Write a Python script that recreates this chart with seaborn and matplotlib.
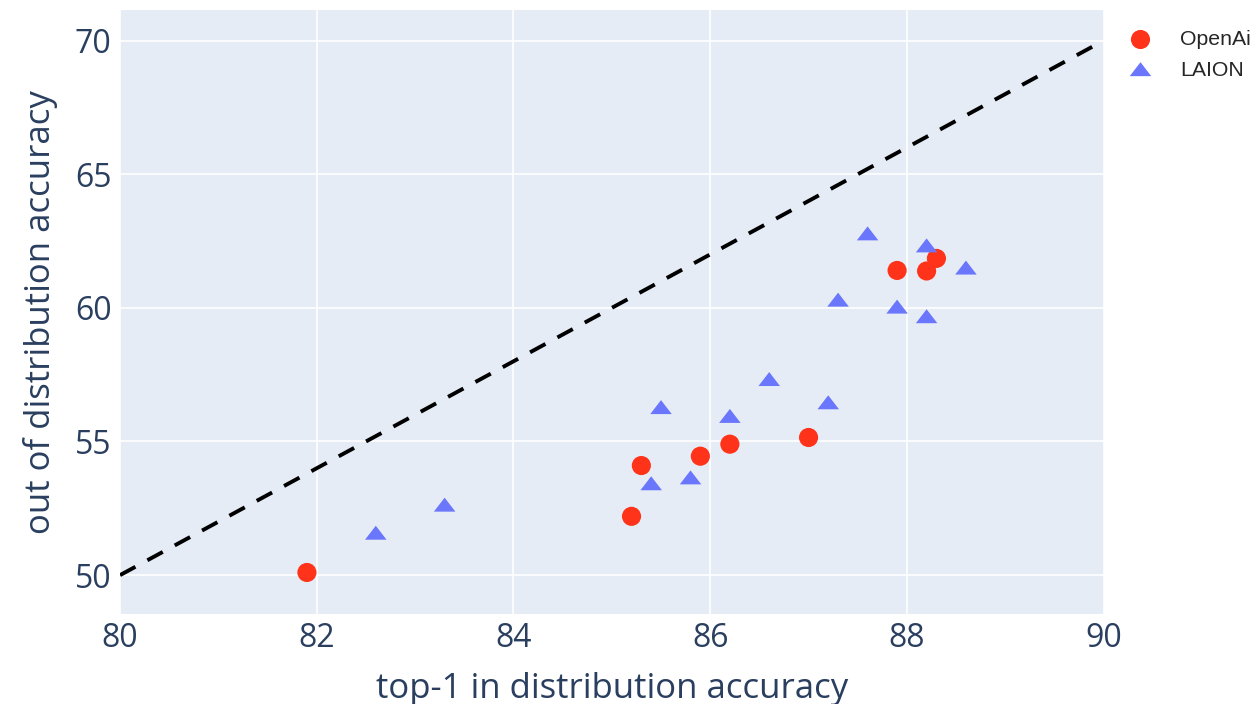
import numpy as np
import pandas as pd
import seaborn as sns
import matplotlib
matplotlib.use('Agg')
import matplotlib.pyplot as plt
from matplotlib.path import Path

# values
openai_x = [81.9, 85.2, 85.3, 85.9, 86.2, 87.0, 87.9, 88.2, 88.3]
openai_y = [50.1, 52.2, 54.1, 54.45, 54.9, 55.15, 61.4, 61.38, 61.85]
laion_x = [82.6, 83.3, 85.4, 85.8, 85.5, 86.2, 86.6, 87.2, 87.3, 87.9, 88.2, 87.6, 88.2, 88.6]
laion_y = [51.5, 52.55, 53.35, 53.57, 56.2, 55.87, 57.25, 56.38, 60.22, 59.96, 59.6, 62.7, 62.25, 61.42]
line_x = [80, 90]
line_y = [50, 70]

df = pd.DataFrame({
    'x': openai_x + laion_x,
    'y': openai_y + laion_y,
    'model': ['OpenAi'] * len(openai_x) + ['LAION'] * len(laion_x),
})

sns.set_theme(style='darkgrid', rc={'axes.facecolor': '#E5ECF6', 'grid.color': 'white',
                                   'grid.linewidth': 1.2, 'figure.facecolor': 'white'})
plt.rcParams['font.family'] = ['Open Sans', 'DejaVu Sans']

# plotly style triangle-up (wider than matplotlib's)
tri = Path([(-1.155, -0.5), (1.155, -0.5), (0, 1.0), (-1.155, -0.5)],
           [Path.MOVETO, Path.LINETO, Path.LINETO, Path.CLOSEPOLY])

fig, ax = plt.subplots(figsize=(12.57, 7.04), dpi=100)
fig.subplots_adjust(left=0.0955, right=0.878, top=0.986, bottom=0.128)

sns.lineplot(x=line_x, y=line_y, ax=ax, color='black', linestyle=(0, (4.5, 3.5)), linewidth=2.8)
sns.scatterplot(data=df, x='x', y='y', hue='model', style='model',
                palette={'OpenAi': '#FF3319', 'LAION': '#6A76FB'},
                markers={'OpenAi': 'o', 'LAION': tri},
                size='model', sizes={'OpenAi': 190, 'LAION': 240},
                linewidth=0, ax=ax, legend=False, zorder=3)

ax.set_xlim(80, 90)
ax.set_ylim(48.55, 71.15)
ax.set_xticks([80, 82, 84, 86, 88, 90])
ax.set_yticks([50, 55, 60, 65, 70])
ax.tick_params(length=0, labelsize=23, labelcolor='#2a3f5f', pad=6)
for s in ax.spines.values():
    s.set_visible(False)
ax.set_xlabel('top-1 in distribution accuracy', fontsize=25, color='#2a3f5f', labelpad=12)
ax.set_ylabel('out of distribution accuracy', fontsize=25, color='#2a3f5f', labelpad=12)

h1 = ax.scatter([], [], s=190, color='#FF3319', marker='o', linewidth=0)
h2 = ax.scatter([], [], s=240, color='#6A76FB', marker=tri, linewidth=0)
ax.legend([h1, h2], ['OpenAi', 'LAION'], loc='upper left', bbox_to_anchor=(1.0, 0.992),
          frameon=False, prop={'family': 'Liberation Sans', 'size': 15.3},
          handletextpad=0.9, labelspacing=0.6, borderaxespad=0.3)

fig.savefig('out.png', dpi=100)
